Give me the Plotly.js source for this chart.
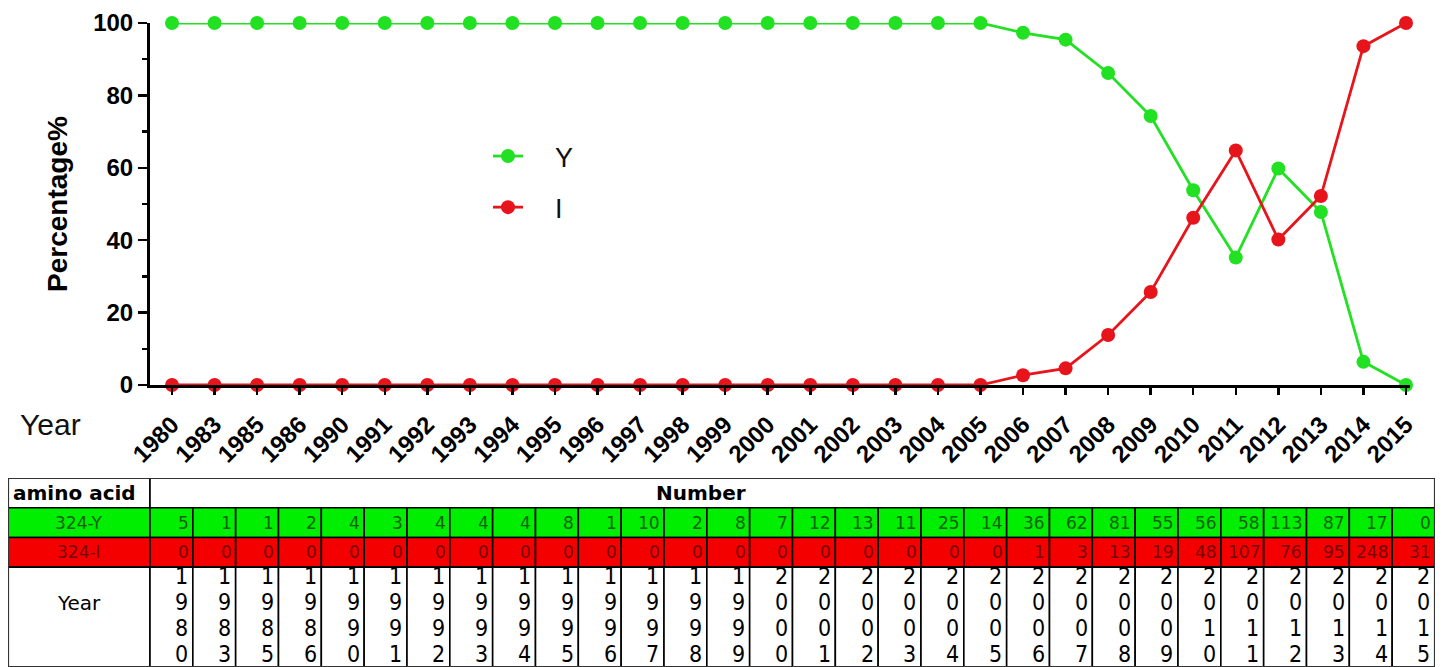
<!DOCTYPE html>
<html>
<head>
<meta charset="utf-8">
<script src="https://cdn.plot.ly/plotly-3.0.1.min.js"></script>
<style>html,body{margin:0;padding:0;background:#fff;}#chart{width:1443px;height:667px;}</style>
</head>
<body>
<div id="chart"></div>
<script>
// ---- data ----
const years = ['1980','1983','1985','1986','1990','1991','1992','1993','1994','1995',
  '1996','1997','1998','1999','2000','2001','2002','2003','2004','2005',
  '2006','2007','2008','2009','2010','2011','2012','2013','2014','2015'];
const pctY = [100,100,100,100,100,100,100,100,100,100,
  100,100,100,100,100,100,100,100,100,100,
  97.3,95.4,86.2,74.3,53.8,35.2,59.8,47.8,6.4,0];
const pctI = [0,0,0,0,0,0,0,0,0,0,
  0,0,0,0,0,0,0,0,0,0,
  2.7,4.6,13.8,25.7,46.2,64.8,40.2,52.2,93.6,100];
const countY = [5,1,1,2,4,3,4,4,4,8,1,10,2,8,7,12,13,11,25,14,36,62,81,55,56,58,113,87,17,0];
const countI = [0,0,0,0,0,0,0,0,0,0,0,0,0,0,0,0,0,0,0,0,1,3,13,19,48,107,76,95,248,31];
const seriesNames = ['Y','I'];
const rowLabels = ['324-Y','324-I'];
const headerLabels = ['amino acid','Number'];
const yearRowLabel = 'Year';
const yTitle = 'Percentage%';

// ---- styles ----
const GREEN = '#22e022', RED = '#e8141c';
const TGREEN = '#00ee00', TRED = '#f50000';
const W = 1443, H = 667;
const PLOT_FONT = 'Liberation Sans, Arial, sans-serif';
const TAB_FONT = 'DejaVu Sans, Verdana, sans-serif';
const TAB_FONT_C = 'DejaVu Sans Condensed, DejaVu Sans, sans-serif';

const traces = [
  {x: years, y: pctY, name: '\u2002\u2002' + seriesNames[0], type: 'scatter', mode: 'lines+markers',
   line: {color: GREEN, width: 2.8}, marker: {color: GREEN, size: 14}, cliponaxis: false, legendgroup: 'a'},
  {x: years, y: pctI, name: '\u2002\u2002' + seriesNames[1], type: 'scatter', mode: 'lines+markers',
   line: {color: RED, width: 2.8}, marker: {color: RED, size: 14}, cliponaxis: false, legendgroup: 'b'},
  {x: [0], y: [0], xaxis: 'x2', yaxis: 'y2', mode: 'markers', marker: {opacity: 0}, showlegend: false, hoverinfo: 'skip'}
];

// table geometry in table-axis units (1 column = 1 unit; row = 1 unit)
const LABW = 3.315;
const rowTop = [0, 1, 2, 3];
const rowBot = [1, 2, 3, 6.36];
const shapes = [];
const annotations = [];
const cellLine = {color: '#000', width: 1.6};
function rect(x0, x1, y0, y1, fill, line) {
  shapes.push({type: 'rect', xref: 'x2', yref: 'y2', x0, x1, y0, y1, fillcolor: fill, line: line || cellLine, layer: 'above'});
}
function txt(x, y, text, opts) {
  annotations.push(Object.assign({xref: 'x2', yref: 'y2', x, y, text, showarrow: false, yanchor: 'middle'}, opts));
}
// header
rect(-LABW, 0, rowTop[0], rowBot[0], '#fff');
rect(0, years.length, rowTop[0], rowBot[0], '#fff');
txt(-LABW + 0.08, 0.5, headerLabels[0], {xanchor: 'left', font: {family: TAB_FONT, size: 20, color: '#000', weight: 'bold'}});
txt(12.87, 0.5, headerLabels[1], {xanchor: 'center', font: {family: TAB_FONT, size: 20, color: '#000', weight: 'bold'}});
// label column
const rowFill = [TGREEN, TRED, '#fff'];
const rowText = ['#0f5f0f', '#780000', '#000'];
[rowLabels[0], rowLabels[1], yearRowLabel].forEach((lab, r) => {
  rect(-LABW, 0, rowTop[r + 1], rowBot[r + 1], rowFill[r]);
  const yc = r < 2 ? (rowTop[r + 1] + rowBot[r + 1]) / 2 : 4.22;
  txt(-LABW / 2, yc, lab, {xanchor: 'center', font: {family: TAB_FONT, size: r < 2 ? 17 : 20, color: rowText[r]}});
});
// data cells
const counts = [countY, countI];
years.forEach((yr, i) => {
  for (let r = 0; r < 2; r++) {
    rect(i, i + 1, rowTop[r + 1], rowBot[r + 1], rowFill[r]);
    txt(i + 1 - 0.05, (rowTop[r + 1] + rowBot[r + 1]) / 2, String(counts[r][i]),
        {xanchor: 'right', font: {family: TAB_FONT, size: 17, color: rowText[r]}});
  }
  rect(i, i + 1, rowTop[3], rowBot[3], '#fff');
  yr.split('').forEach((ch, k) => {
    txt(i + 1 - 0.06, 3.30 + 0.875 * k, ch, {xanchor: 'right', font: {family: TAB_FONT_C, size: 23, color: '#000'}});
  });
});
// outer border
rect(-LABW, years.length, 0, 6.36, 'rgba(0,0,0,0)', {color: '#333', width: 2.2});

// "Year" label beside the x axis
annotations.push({xref: 'paper', yref: 'paper', x: 18 / W, y: 1 - 425 / H, xanchor: 'left', yanchor: 'middle',
  text: 'Year', showarrow: false, font: {family: PLOT_FONT, size: 30, color: '#111'}});

const layout = {
  width: W, height: H, autosize: false,
  margin: {l: 0, r: 0, t: 0, b: 0},
  paper_bgcolor: '#fff', plot_bgcolor: '#fff',
  font: {family: PLOT_FONT, color: '#000'},
  showlegend: true,
  legend: {x: 488 / W, y: 1 - 132 / H, xanchor: 'left', yanchor: 'top', bgcolor: 'rgba(0,0,0,0)',
           font: {family: PLOT_FONT, size: 27, color: '#111'}, tracegroupgap: 13, itemwidth: 30},
  xaxis: {type: 'category', domain: [150 / W, 1410 / W], range: [-0.517, 29.094],
          tickmode: 'array', tickvals: years, ticktext: years, tickangle: -45,
          tickfont: {family: PLOT_FONT, size: 24, color: '#000', weight: 'bold'}, ticklabelstandoff: 6,
          showline: true, linewidth: 3, linecolor: '#000', ticks: 'outside', ticklen: 7, tickwidth: 2.5, tickcolor: '#000',
          showgrid: false, zeroline: false, automargin: false, fixedrange: true},
  yaxis: {domain: [1 - 385 / H, 1 - 23 / H], range: [0, 100], tickvals: [0, 20, 40, 60, 80, 100],
          tickfont: {family: PLOT_FONT, size: 24, color: '#000', weight: 'bold'},
          showline: true, linewidth: 3, linecolor: '#000', ticks: 'outside', ticklen: 9, tickwidth: 2.5, tickcolor: '#000',
          minor: {dtick: 10, ticks: 'outside', ticklen: 5, tickwidth: 2.5, tickcolor: '#000'},
          title: {text: yTitle, font: {family: PLOT_FONT, size: 28, color: '#000', weight: 'bold'}, standoff: 18},
          showgrid: false, zeroline: false, automargin: false, fixedrange: true},
  xaxis2: {domain: [8 / W, 1435 / W], range: [-LABW, 30], visible: false, fixedrange: true},
  yaxis2: {domain: [0, 1 - 478 / H], range: [6.36, 0], visible: false, fixedrange: true},
  shapes, annotations
};
Plotly.newPlot('chart', traces, layout, {displayModeBar: false, staticPlot: true});
</script>
</body>
</html>
